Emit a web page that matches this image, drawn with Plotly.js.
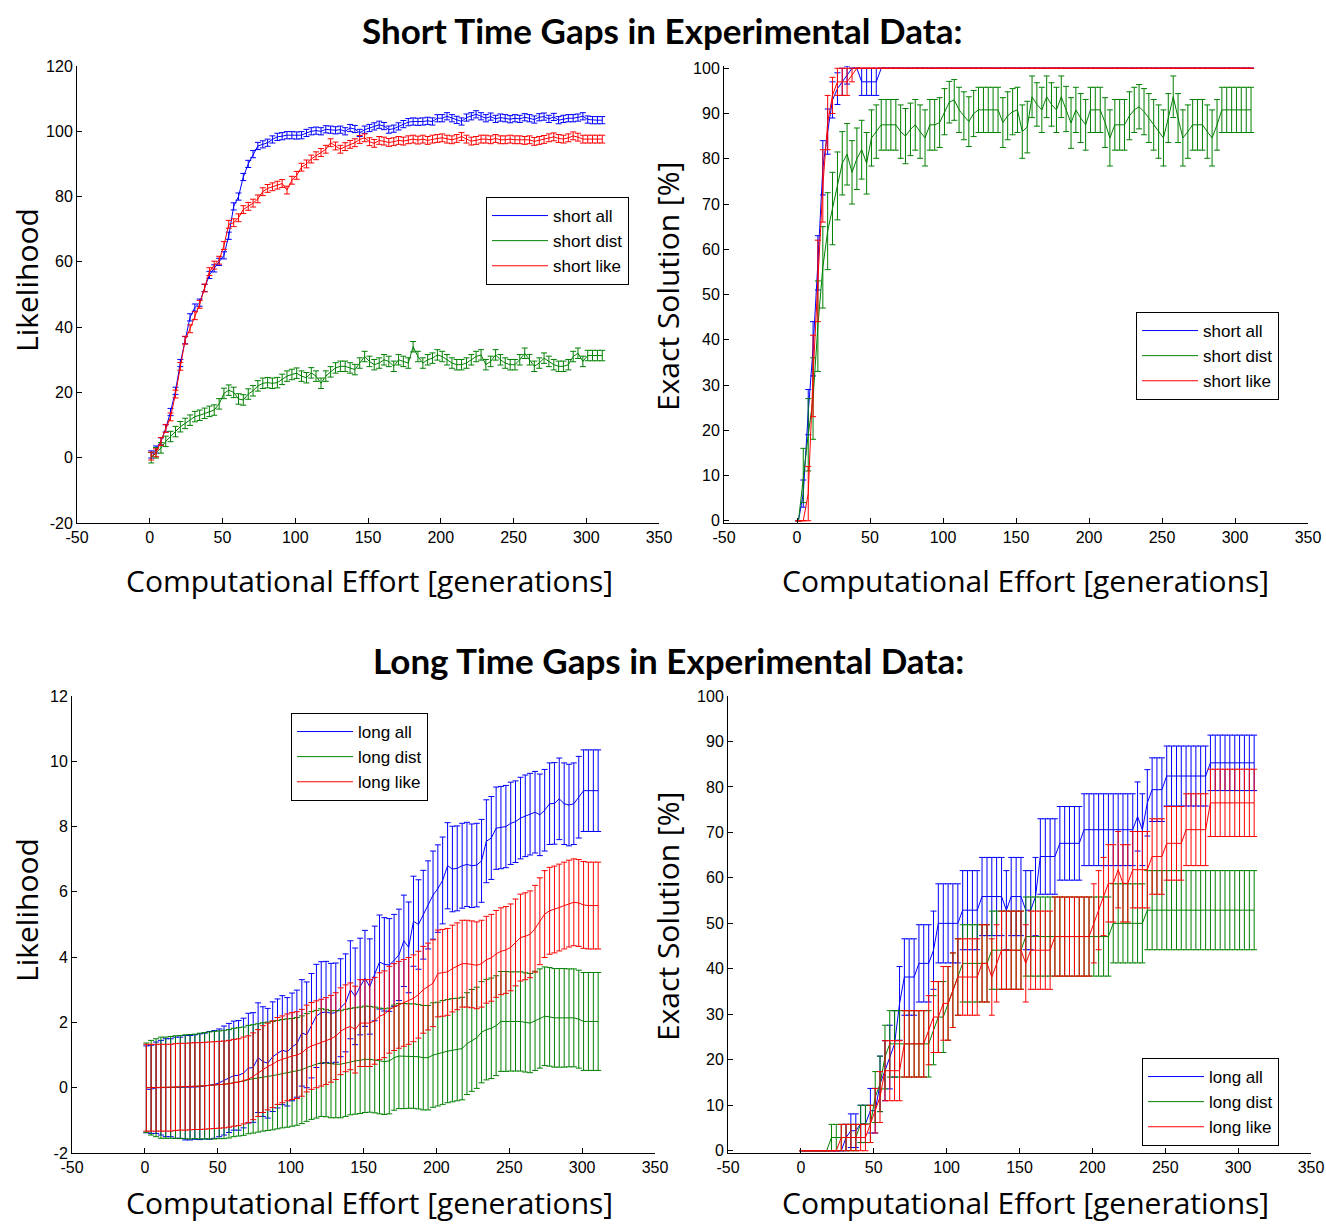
<!DOCTYPE html>
<html>
<head>
<meta charset="utf-8">
<script src="https://cdn.plot.ly/plotly-3.0.1.min.js"></script>
<style>html,body{margin:0;padding:0;background:#fff;}#chart{width:1326px;height:1226px;}</style>
</head>
<body>
<div id="chart"></div>
<script>
// Computational effort [generations] (sample positions)
const generations = [
 1, 4.3, 7.7, 11, 14.3, 17.7, 21, 24.3, 27.7, 31,
 34.3, 37.7, 41, 44.3, 47.7, 51, 54.3, 57.7, 61, 64.3,
 67.7, 71, 74.3, 77.7, 81, 84.3, 87.7, 91, 94.3, 97.7,
 101, 104.3, 107.7, 111, 114.3, 117.7, 121, 124.3, 127.7, 131,
 134.3, 137.7, 141, 144.3, 147.7, 151, 154.3, 157.7, 161, 164.3,
 167.7, 171, 174.3, 177.7, 181, 184.3, 187.7, 191, 194.3, 197.7,
 201, 204.3, 207.7, 211, 214.3, 217.7, 221, 224.3, 227.7, 231,
 234.3, 237.7, 241, 244.3, 247.7, 251, 254.3, 257.7, 261, 264.3,
 267.7, 271, 274.3, 277.7, 281, 284.3, 287.7, 291, 294.3, 297.7,
 301, 304.3, 307.7, 311];

// ---------- Short time gaps: Likelihood ----------
const shortAllLik = [
 1, 2.5, 5, 9, 14, 20.5, 29, 36, 43, 46,
 47.5, 52, 56, 58, 60, 62, 68, 77, 80, 86,
 90, 93, 95.5, 96, 96.5, 97.5, 98.3, 98.5, 98.8, 98.8,
 98.7, 98.8, 99.5, 100, 100.2, 100, 100.6, 100.5, 100.3, 100.5,
 100, 101, 100.7, 99.5, 100.5, 101, 101.5, 102, 101.6, 100.5,
 100.8, 101.5, 102.2, 102.8, 103, 102.9, 103, 103.2, 103, 104,
 104, 104.6, 104, 103.5, 103, 104.2, 104.6, 105.2, 104.6, 104,
 104.5, 103.8, 104.2, 104, 103.7, 104, 103.8, 104.3, 104, 103.6,
 104.3, 104.5, 103.8, 104.4, 103.4, 103.8, 104, 104, 104.2, 104.6,
 103.6, 103.4, 103.4, 103.4];
const shortDistLik = [
 0, 1.5, 3, 5, 6.5, 8, 9.5, 10.5, 11.5, 12.6,
 13, 13.6, 14.2, 14.6, 16.5, 19.7, 20.7, 20, 18, 17.7,
 19.5, 20.5, 22, 22.8, 23, 22.8, 23, 24, 25, 25.5,
 25.9, 25, 24.5, 26, 25, 22.8, 25, 26.3, 27.5, 28,
 28, 27.5, 27, 29, 31, 29.5, 28.5, 29, 30, 29.5,
 28, 30, 29.5, 29, 34, 31, 29, 30, 30.5, 31.5,
 31, 30, 29, 28.5, 28.5, 29, 30, 31, 31.5, 28.5,
 29.5, 31.5, 30, 29, 28.5, 28.5, 30, 32, 30, 28,
 29, 30.5, 29.5, 28.5, 28, 28, 28.5, 31, 32, 29.5,
 31.3, 31.3, 31.3, 31.3];
const shortLikeLik = [
 0.5, 1.5, 5, 9, 12.5, 19.5, 28, 36, 39.5, 43.5,
 47, 52, 57, 59, 60.5, 65, 71.5, 72, 73.5, 76,
 77, 78, 79.3, 81.5, 82.5, 83, 83.5, 84, 82, 85,
 86.5, 89, 90, 91.5, 92.5, 93.5, 94.5, 96.5, 95.5, 94.5,
 95.3, 96, 96.5, 97.5, 98, 96.8, 96.3, 97.2, 97, 96.6,
 96.8, 97.2, 97, 97.4, 97.6, 97.3, 97.6, 97.2, 97.6, 97.8,
 98, 97.6, 97.4, 97.8, 98.4, 97.6, 97, 97.2, 97.6, 97.6,
 97.4, 97.8, 97.4, 97.4, 97.6, 97.4, 97.4, 97.2, 97.4, 96.9,
 97.2, 97.5, 98, 98.3, 97.8, 97.6, 98, 98.6, 98.2, 97.6,
 97.6, 97.6, 97.6, 97.6];
const shortAllLikErr = 1.1;
const shortDistLikErr = 1.6;
const shortLikeLikErr = 1.2;

// ---------- Short time gaps: Exact solution [%] ----------
const shortAllExact = [
 0, 6, 24, 38, 57, 78, 86, 93, 95.5, 97,
 98.5, 100, 100, 97, 97, 97, 97, 100, 100, 100,
 100, 100, 100, 100, 100, 100, 100, 100, 100, 100,
 100, 100, 100, 100, 100, 100, 100, 100, 100, 100,
 100, 100, 100, 100, 100, 100, 100, 100, 100, 100,
 100, 100, 100, 100, 100, 100, 100, 100, 100, 100,
 100, 100, 100, 100, 100, 100, 100, 100, 100, 100,
 100, 100, 100, 100, 100, 100, 100, 100, 100, 100,
 100, 100, 100, 100, 100, 100, 100, 100, 100, 100,
 100, 100, 100, 100];
const shortAllExactErr = [
 0, 3, 5, 6, 6, 6, 5, 4, 3.5, 3,
 2, 0, 0, 3, 3, 3, 3, 0, 0, 0,
 0, 0, 0, 0, 0, 0, 0, 0, 0, 0,
 0, 0, 0, 0, 0, 0, 0, 0, 0, 0,
 0, 0, 0, 0, 0, 0, 0, 0, 0, 0,
 0, 0, 0, 0, 0, 0, 0, 0, 0, 0,
 0, 0, 0, 0, 0, 0, 0, 0, 0, 0,
 0, 0, 0, 0, 0, 0, 0, 0, 0, 0,
 0, 0, 0, 0, 0, 0, 0, 0, 0, 0,
 0, 0, 0, 0];
const shortDistExact = [
 0, 10, 19, 27, 43, 56, 64, 69, 74, 79,
 81, 77, 80, 82, 79, 84.6, 86, 87.5, 87.5, 87.5,
 87.5, 86, 85, 86.5, 87.5, 86, 84.6, 87.5, 87.5, 88,
 90.4, 92.5, 93, 90.8, 89.5, 88.2, 90, 90.8, 90.8, 90.8,
 90.8, 90.8, 88, 89.5, 90.4, 90.8, 86, 87, 93.7, 92,
 90.8, 93.7, 92, 90.8, 93.7, 91, 87.9, 90.8, 89, 87.5,
 90.8, 90.8, 90.8, 88, 84.6, 87.5, 87.5, 87.5, 89.5, 90.8,
 91.5, 90.4, 89, 87.5, 86, 84.6, 89, 93.7, 89, 84.6,
 86, 87.5, 87.5, 87.5, 86, 84.6, 87.5, 90.8, 90.8, 90.8,
 90.8, 90.8, 90.8, 90.8];
const shortDistExactErr = [
 0, 6, 8, 9, 10, 9, 8.5, 8, 7.5, 7,
 6.8, 7, 6.8, 6.5, 6.8, 6.2, 5.9, 5.6, 5.6, 5.6,
 5.6, 5.9, 6.1, 5.8, 5.6, 5.9, 6.2, 5.6, 5.6, 5.5,
 5.1, 4.6, 4.5, 5, 5.3, 5.5, 5.1, 5, 5, 5,
 5, 5, 5.5, 5.3, 5.1, 5, 5.9, 5.7, 4.6, 4.8,
 5, 4.6, 4.8, 5, 4.6, 5, 5.6, 5, 5.4, 5.6,
 5, 5, 5, 5.5, 6.2, 5.6, 5.6, 5.6, 5.3, 5,
 4.9, 5.1, 5.4, 5.6, 5.9, 6.2, 5.4, 4.6, 5.4, 6.2,
 5.9, 5.6, 5.6, 5.6, 5.9, 6.2, 5.6, 5, 5, 5,
 5, 5, 5, 5];
const shortLikeExact = [
 0, 0, 6, 32, 53, 74, 88, 94, 97, 97,
 97, 98.5, 100, 100, 100, 100, 100, 100, 100, 100,
 100, 100, 100, 100, 100, 100, 100, 100, 100, 100,
 100, 100, 100, 100, 100, 100, 100, 100, 100, 100,
 100, 100, 100, 100, 100, 100, 100, 100, 100, 100,
 100, 100, 100, 100, 100, 100, 100, 100, 100, 100,
 100, 100, 100, 100, 100, 100, 100, 100, 100, 100,
 100, 100, 100, 100, 100, 100, 100, 100, 100, 100,
 100, 100, 100, 100, 100, 100, 100, 100, 100, 100,
 100, 100, 100, 100];
const shortLikeExactErr = [
 0, 0, 6, 9, 9, 8, 6, 4, 3, 3,
 3, 1.5, 0, 0, 0, 0, 0, 0, 0, 0,
 0, 0, 0, 0, 0, 0, 0, 0, 0, 0,
 0, 0, 0, 0, 0, 0, 0, 0, 0, 0,
 0, 0, 0, 0, 0, 0, 0, 0, 0, 0,
 0, 0, 0, 0, 0, 0, 0, 0, 0, 0,
 0, 0, 0, 0, 0, 0, 0, 0, 0, 0,
 0, 0, 0, 0, 0, 0, 0, 0, 0, 0,
 0, 0, 0, 0, 0, 0, 0, 0, 0, 0,
 0, 0, 0, 0];

// ---------- Long time gaps: Likelihood ----------
const longAllLik = [
 -0.05, -0.05, 0, 0, 0, 0, 0, 0, 0, 0,
 0.02, 0.03, 0.05, 0.07, 0.1, 0.15, 0.22, 0.3, 0.37, 0.38,
 0.45, 0.6, 0.62, 0.92, 0.8, 0.75, 0.95, 1.05, 1.15, 1.1,
 1.25, 1.35, 1.68, 1.62, 1.9, 2.2, 2.3, 2.32, 2.28, 2.3,
 2.45, 2.6, 3.0, 2.8, 3.1, 3.35, 3.1, 3.5, 3.85, 3.78,
 3.76, 3.9, 4.07, 4.5, 4.3, 5.1, 5.0, 5.3, 5.6, 5.9,
 6.1, 6.35, 6.8, 6.7, 6.72, 6.8, 6.84, 6.8, 6.82, 6.95,
 7.55, 7.65, 7.95, 7.97, 8.0, 8.1, 8.15, 8.26, 8.33, 8.38,
 8.44, 8.36, 8.5, 8.7, 8.71, 8.85, 8.7, 8.66, 8.7, 8.9,
 9.1, 9.1, 9.1, 9.1];
const longAllLikErr = [
 1.33, 1.35, 1.4, 1.45, 1.5, 1.5, 1.55, 1.55, 1.6, 1.6,
 1.6, 1.62, 1.62, 1.65, 1.65, 1.65, 1.67, 1.67, 1.67, 1.68,
 1.68, 1.68, 1.68, 1.68, 1.68, 1.68, 1.68, 1.67, 1.67, 1.66,
 1.65, 1.64, 1.63, 1.62, 1.6, 1.58, 1.56, 1.55, 1.53, 1.52,
 1.5, 1.5, 1.5, 1.48, 1.48, 1.47, 1.46, 1.45, 1.44, 1.43,
 1.42, 1.41, 1.4, 1.4, 1.39, 1.38, 1.37, 1.36, 1.35, 1.35,
 1.34, 1.33, 1.32, 1.31, 1.3, 1.3, 1.29, 1.28, 1.28, 1.27,
 1.27, 1.27, 1.26, 1.26, 1.26, 1.26, 1.25, 1.25, 1.25, 1.25,
 1.25, 1.25, 1.25, 1.25, 1.25, 1.25, 1.25, 1.25, 1.25, 1.25,
 1.25, 1.25, 1.25, 1.25];
const longDistLik = [
 0, 0, 0, 0, 0, 0.01, 0.02, 0.02, 0.03, 0.03,
 0.04, 0.05, 0.06, 0.07, 0.08, 0.09, 0.1, 0.12, 0.16, 0.18,
 0.2, 0.25, 0.27, 0.3, 0.33, 0.35, 0.37, 0.4, 0.43, 0.45,
 0.47, 0.5, 0.55, 0.62, 0.68, 0.72, 0.77, 0.75, 0.72, 0.72,
 0.72, 0.76, 0.8, 0.82, 0.84, 0.87, 0.87, 0.85, 0.82, 0.8,
 0.82, 0.92, 0.97, 0.97, 0.97, 0.97, 0.95, 0.92, 0.92, 1.0,
 1.03, 1.08, 1.12, 1.15, 1.17, 1.2, 1.35, 1.45, 1.53, 1.7,
 1.78, 1.82, 1.9, 2.03, 2.03, 2.03, 2.03, 2.03, 2.0, 1.98,
 2.05, 2.12, 2.19, 2.17, 2.14, 2.14, 2.14, 2.14, 2.14, 2.1,
 2.03, 2.03, 2.03, 2.03];
const longDistLikErr = [
 1.37, 1.45, 1.5, 1.55, 1.55, 1.56, 1.57, 1.58, 1.59, 1.6,
 1.6, 1.62, 1.63, 1.64, 1.65, 1.65, 1.66, 1.66, 1.66, 1.66,
 1.66, 1.66, 1.66, 1.66, 1.66, 1.66, 1.66, 1.66, 1.66, 1.66,
 1.65, 1.65, 1.65, 1.65, 1.65, 1.65, 1.65, 1.64, 1.64, 1.64,
 1.64, 1.64, 1.63, 1.63, 1.63, 1.63, 1.62, 1.62, 1.62, 1.62,
 1.62, 1.61, 1.61, 1.61, 1.6, 1.6, 1.6, 1.6, 1.6, 1.6,
 1.59, 1.59, 1.58, 1.58, 1.57, 1.57, 1.56, 1.56, 1.55, 1.55,
 1.54, 1.54, 1.53, 1.53, 1.53, 1.52, 1.52, 1.52, 1.52, 1.52,
 1.52, 1.52, 1.51, 1.51, 1.51, 1.51, 1.51, 1.5, 1.5, 1.5,
 1.5, 1.5, 1.5, 1.5];
const longLikeLik = [
 0, 0, 0, 0, 0, 0, 0.02, 0.03, 0.03, 0.04,
 0.05, 0.05, 0.06, 0.07, 0.08, 0.09, 0.1, 0.12, 0.15, 0.17,
 0.22, 0.26, 0.35, 0.45, 0.57, 0.65, 0.72, 0.82, 0.87, 0.93,
 0.97, 1.0, 1.07, 1.2, 1.28, 1.33, 1.38, 1.43, 1.5, 1.58,
 1.73, 1.82, 1.88, 1.78, 1.98, 1.98, 1.98, 2.05, 2.19, 2.25,
 2.39, 2.47, 2.54, 2.6, 2.66, 2.74, 2.85, 3.0, 3.1, 3.2,
 3.5, 3.52, 3.55, 3.65, 3.72, 3.8, 3.8, 3.78, 3.75, 3.8,
 3.92, 3.98, 4.1, 4.18, 4.22, 4.3, 4.45, 4.6, 4.64, 4.7,
 4.87, 5.1, 5.32, 5.42, 5.46, 5.52, 5.58, 5.64, 5.68, 5.66,
 5.6, 5.58, 5.58, 5.58];
const longLikeLikErr = 1.33;

// ---------- Long time gaps: Exact solution [%] ----------
const longAllExact = [
 0, 0, 0, 0, 0, 0, 0, 0, 0, 2.9,
 4.4, 4.4, 5.9, 5.9, 8.8, 8.8, 14.7, 17.6, 20.6, 23.5,
 32.4, 38.2, 38.2, 38.2, 41.2, 41.2, 41.2, 44.1, 50, 50,
 50, 50, 50, 52.9, 52.9, 52.9, 52.9, 55.9, 55.9, 55.9,
 55.9, 55.9, 52.9, 55.9, 55.9, 55.9, 52.9, 52.9, 55.9, 64.7,
 64.7, 64.7, 64.7, 67.6, 67.6, 67.6, 67.6, 67.6, 70.6, 70.6,
 70.6, 70.6, 70.6, 70.6, 70.6, 70.6, 70.6, 70.6, 70.6, 73.5,
 70.6, 76.5, 79.4, 79.4, 79.4, 82.4, 82.4, 82.4, 82.4, 82.4,
 82.4, 82.4, 82.4, 82.4, 85.3, 85.3, 85.3, 85.3, 85.3, 85.3,
 85.3, 85.3, 85.3, 85.3];
const longAllExactErr = [
 0, 0, 0, 0, 0, 0, 0, 0, 0, 2.9,
 3.7, 3.7, 4.1, 4.1, 4.9, 4.9, 6.1, 6.6, 7, 7.3,
 8.1, 8.4, 8.4, 8.4, 8.5, 8.5, 8.5, 8.6, 8.7, 8.7,
 8.7, 8.7, 8.7, 8.7, 8.7, 8.7, 8.7, 8.6, 8.6, 8.6,
 8.6, 8.6, 8.7, 8.6, 8.6, 8.6, 8.7, 8.7, 8.6, 8.3,
 8.3, 8.3, 8.3, 8.1, 8.1, 8.1, 8.1, 8.1, 7.9, 7.9,
 7.9, 7.9, 7.9, 7.9, 7.9, 7.9, 7.9, 7.9, 7.9, 7.6,
 7.9, 7.3, 7.0, 7.0, 7.0, 6.6, 6.6, 6.6, 6.6, 6.6,
 6.6, 6.6, 6.6, 6.6, 6.1, 6.1, 6.1, 6.1, 6.1, 6.1,
 6.1, 6.1, 6.1, 6.1];
const longDistExact = [
 0, 0, 0, 0, 0, 0, 2.9, 2.9, 2.9, 2.9,
 2.9, 2.9, 5.9, 5.9, 5.9, 11.8, 14.7, 20.6, 23.5, 23.5,
 23.5, 23.5, 23.5, 23.5, 23.5, 23.5, 23.5, 26.5, 29.4, 29.4,
 32.4, 35.3, 38.2, 41.2, 41.2, 41.2, 41.2, 41.2, 41.2, 44.1,
 44.1, 44.1, 44.1, 44.1, 44.1, 44.1, 47.1, 47.1, 47.1, 47.1,
 47.1, 47.1, 47.1, 47.1, 47.1, 47.1, 47.1, 47.1, 47.1, 47.1,
 47.1, 47.1, 47.1, 47.1, 50, 50, 50, 50, 50, 50,
 50, 52.9, 52.9, 52.9, 52.9, 52.9, 52.9, 52.9, 52.9, 52.9,
 52.9, 52.9, 52.9, 52.9, 52.9, 52.9, 52.9, 52.9, 52.9, 52.9,
 52.9, 52.9, 52.9, 52.9];
const longDistExactErr = [
 0, 0, 0, 0, 0, 0, 2.9, 2.9, 2.9, 2.9,
 2.9, 2.9, 4.1, 4.1, 4.1, 5.6, 6.1, 7, 7.3, 7.3,
 7.3, 7.3, 7.3, 7.3, 7.3, 7.3, 7.3, 7.6, 7.8, 7.8,
 8.1, 8.2, 8.4, 8.5, 8.5, 8.5, 8.5, 8.5, 8.5, 8.6,
 8.6, 8.6, 8.6, 8.6, 8.6, 8.6, 8.7, 8.7, 8.7, 8.7,
 8.7, 8.7, 8.7, 8.7, 8.7, 8.7, 8.7, 8.7, 8.7, 8.7,
 8.7, 8.7, 8.7, 8.7, 8.7, 8.7, 8.7, 8.7, 8.7, 8.7,
 8.7, 8.7, 8.7, 8.7, 8.7, 8.7, 8.7, 8.7, 8.7, 8.7,
 8.7, 8.7, 8.7, 8.7, 8.7, 8.7, 8.7, 8.7, 8.7, 8.7,
 8.7, 8.7, 8.7, 8.7];
const longLikeExact = [
 0, 0, 0, 0, 0, 0, 0, 0, 2.9, 2.9,
 2.9, 2.9, 2.9, 2.9, 5.9, 8.8, 11.8, 17.6, 17.6, 17.6,
 17.6, 23.5, 23.5, 23.5, 23.5, 23.5, 26.5, 29.4, 29.4, 32.4,
 32.4, 35.3, 38.2, 38.2, 38.2, 38.2, 38.2, 41.2, 41.2, 38.2,
 41.2, 44.1, 44.1, 44.1, 44.1, 44.1, 41.2, 44.1, 44.1, 44.1,
 44.1, 44.1, 47.1, 47.1, 47.1, 47.1, 47.1, 47.1, 47.1, 47.1,
 50, 52.9, 55.9, 58.8, 58.8, 61.8, 58.8, 58.8, 61.8, 61.8,
 61.8, 61.8, 64.7, 64.7, 64.7, 67.6, 67.6, 67.6, 67.6, 70.6,
 70.6, 70.6, 70.6, 70.6, 76.5, 76.5, 76.5, 76.5, 76.5, 76.5,
 76.5, 76.5, 76.5, 76.5];
const longLikeExactErr = [
 0, 0, 0, 0, 0, 0, 0, 0, 2.9, 2.9,
 2.9, 2.9, 2.9, 2.9, 4.1, 4.9, 5.6, 6.6, 6.6, 6.6,
 6.6, 7.3, 7.3, 7.3, 7.3, 7.3, 7.6, 7.8, 7.8, 8.1,
 8.1, 8.2, 8.4, 8.4, 8.4, 8.4, 8.4, 8.5, 8.5, 8.4,
 8.5, 8.6, 8.6, 8.6, 8.6, 8.6, 8.5, 8.6, 8.6, 8.6,
 8.6, 8.6, 8.7, 8.7, 8.7, 8.7, 8.7, 8.7, 8.7, 8.7,
 8.7, 8.7, 8.6, 8.5, 8.5, 8.4, 8.5, 8.5, 8.4, 8.4,
 8.4, 8.4, 8.3, 8.3, 8.3, 8.1, 8.1, 8.1, 8.1, 7.9,
 7.9, 7.9, 7.9, 7.9, 7.4, 7.4, 7.4, 7.4, 7.4, 7.4,
 7.4, 7.4, 7.4, 7.4];

// Tick labels
const xTickVals = [-50, 0, 50, 100, 150, 200, 250, 300, 350];
const xTickText = ['-50', '0', '50', '100', '150', '200', '250', '300', '350'];
const likShortTickVals = [-20, 0, 20, 40, 60, 80, 100, 120];
const likShortTickText = ['-20', '0', '20', '40', '60', '80', '100', '120'];
const likLongTickVals = [-2, 0, 2, 4, 6, 8, 10, 12];
const likLongTickText = ['-2', '0', '2', '4', '6', '8', '10', '12'];
const exactTickVals = [0, 10, 20, 30, 40, 50, 60, 70, 80, 90, 100];

const BLUE = '#0000FF', GREEN = '#008000', RED = '#FF0000';

function errSpec(e, color) {
  if (Array.isArray(e)) return {type: 'data', array: e, visible: true, color: color, thickness: 1, width: 3};
  return {type: 'constant', value: e, visible: true, color: color, thickness: 1, width: 3};
}
function tr(y, e, name, color, xa, ya, leg) {
  return {type: 'scatter', mode: 'lines', x: generations, y: y, name: name,
    line: {color: color, width: 1}, error_y: errSpec(e, color),
    xaxis: xa, yaxis: ya, legend: leg, hoverinfo: 'skip'};
}

const data = [
  tr(shortAllLik, shortAllLikErr, 'short all', BLUE, 'x', 'y', 'legend'),
  tr(shortDistLik, shortDistLikErr, 'short dist', GREEN, 'x', 'y', 'legend'),
  tr(shortLikeLik, shortLikeLikErr, 'short like', RED, 'x', 'y', 'legend'),
  tr(shortAllExact, shortAllExactErr, 'short all', BLUE, 'x2', 'y2', 'legend2'),
  tr(shortDistExact, shortDistExactErr, 'short dist', GREEN, 'x2', 'y2', 'legend2'),
  tr(shortLikeExact, shortLikeExactErr, 'short like', RED, 'x2', 'y2', 'legend2'),
  tr(longAllLik, longAllLikErr, 'long all', BLUE, 'x3', 'y3', 'legend3'),
  tr(longDistLik, longDistLikErr, 'long dist', GREEN, 'x3', 'y3', 'legend3'),
  tr(longLikeLik, longLikeLikErr, 'long like', RED, 'x3', 'y3', 'legend3'),
  tr(longAllExact, longAllExactErr, 'long all', BLUE, 'x4', 'y4', 'legend4'),
  tr(longDistExact, longDistExactErr, 'long dist', GREEN, 'x4', 'y4', 'legend4'),
  tr(longLikeExact, longLikeExactErr, 'long like', RED, 'x4', 'y4', 'legend4')
];

const W = 1326, H = 1226;
const px = v => v / W, py = v => 1 - v / H;
const tickFont = {family: 'Liberation Sans, Arial, sans-serif', size: 16, color: '#000'};
function ax(extra) {
  return Object.assign({showline: true, linecolor: '#000', linewidth: 1, ticks: 'inside', ticklen: 5,
    tickcolor: '#000', tickwidth: 1, showgrid: false, zeroline: false, tickfont: tickFont,
    fixedrange: true, mirror: false, tickmode: 'array'}, extra);
}
const xCommon = {range: [-50, 350], tickvals: xTickVals, ticktext: xTickText};
const legendBase = {xanchor: 'left', yanchor: 'top', bordercolor: '#000', borderwidth: 1, bgcolor: '#fff',
  font: {family: 'Liberation Sans, Arial, sans-serif', size: 17, color: '#000'}, tracegroupgap: 0, itemwidth: 56};

const titleFont = {family: 'Lato, Open Sans, sans-serif', size: 35, color: '#000'};
const labFont = {family: 'Open Sans, DejaVu Sans, sans-serif', size: 30, color: '#000'};
function ann(text, x, y, font, angle, yanchor) {
  return {text: text, x: x, y: y, xref: 'paper', yref: 'paper', xanchor: 'center', yanchor: yanchor || 'middle',
    showarrow: false, font: font, textangle: angle || 0};
}

const layout = {
  width: W, height: H, margin: {l: 0, r: 0, t: 0, b: 0},
  paper_bgcolor: '#fff', plot_bgcolor: '#fff', showlegend: true,
  xaxis: ax(Object.assign({domain: [px(77), px(659)], anchor: 'y'}, xCommon)),
  yaxis: ax({domain: [py(523), py(66)], anchor: 'x', range: [-20, 120], tickvals: likShortTickVals, ticktext: likShortTickText}),
  xaxis2: ax(Object.assign({domain: [px(724), px(1308)], anchor: 'y2'}, xCommon)),
  yaxis2: ax({domain: [py(523), py(66)], anchor: 'x2', range: [-0.5, 100.5], tickvals: exactTickVals}),
  xaxis3: ax(Object.assign({domain: [px(72), px(655)], anchor: 'y3'}, xCommon)),
  yaxis3: ax({domain: [py(1153), py(696)], anchor: 'x3', range: [-2, 12], tickvals: likLongTickVals, ticktext: likLongTickText}),
  xaxis4: ax(Object.assign({domain: [px(728), px(1311)], anchor: 'y4'}, xCommon)),
  yaxis4: ax({domain: [py(1153), py(696)], anchor: 'x4', range: [-0.5, 100], tickvals: exactTickVals}),
  legend: Object.assign({x: px(486), y: py(197)}, legendBase),
  legend2: Object.assign({x: px(1136), y: py(312)}, legendBase),
  legend3: Object.assign({x: px(291), y: py(713)}, legendBase),
  legend4: Object.assign({x: px(1142), y: py(1058)}, legendBase),
  annotations: [
    ann('<b>Short Time Gaps in Experimental Data:</b>', px(662), py(30), titleFont),
    ann('<b>Long Time Gaps in Experimental Data:</b>', px(668), py(660), titleFont),
    ann('Computational Effort [generations]', px(369), py(581), labFont),
    ann('Computational Effort [generations]', px(1025), py(581), labFont),
    ann('Computational Effort [generations]', px(369), py(1225), labFont, 0, 'bottom'),
    ann('Computational Effort [generations]', px(1025), py(1225), labFont, 0, 'bottom'),
    ann('Likelihood', px(27), py(280), labFont, -90),
    ann('Exact Solution [%]', px(668), py(287), labFont, -90),
    ann('Likelihood', px(27), py(910), labFont, -90),
    ann('Exact Solution [%]', px(668), py(917), labFont, -90)
  ]
};

Plotly.newPlot('chart', data, layout, {displayModeBar: false, staticPlot: true});
</script>
</body>
</html>
